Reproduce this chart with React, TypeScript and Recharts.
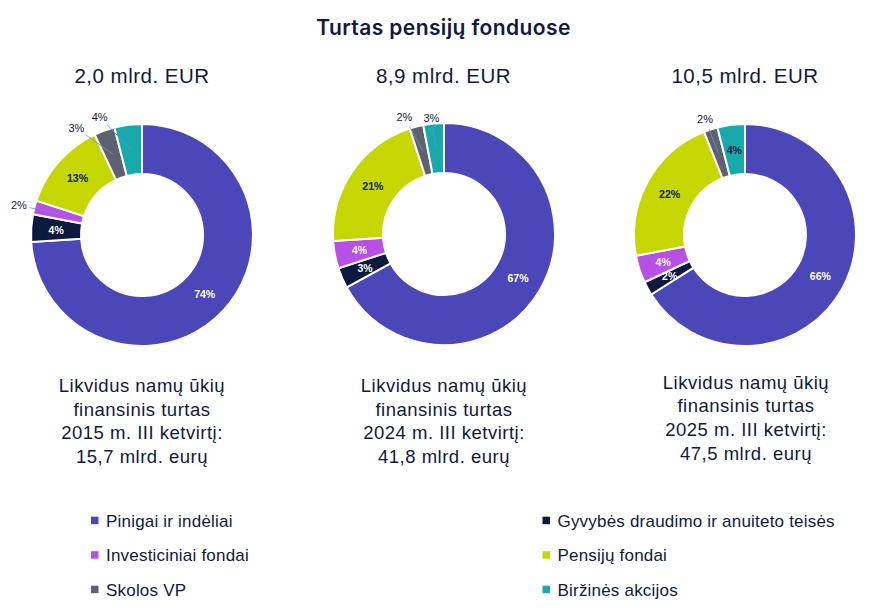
import React from 'react'
import { PieChart, Pie, Cell } from 'recharts'

const categories = [
  'Pinigai ir indėliai',
  'Gyvybės draudimo ir anuiteto teisės',
  'Investiciniai fondai',
  'Pensijų fondai',
  'Skolos VP',
  'Biržinės akcijos',
]

// structure of liquid household financial assets, %
const share2015 = [74, 4, 2, 13, 3, 4]
const share2024 = [67, 3, 4, 21, 2, 3]
const share2025 = [66, 2, 4, 22, 2, 4]

const pensionTotals = ['2,0 mlrd. EUR', '8,9 mlrd. EUR', '10,5 mlrd. EUR']
const periods = ['2015 m. III ketvirtį:', '2024 m. III ketvirtį:', '2025 m. III ketvirtį:']
const householdTotals = ['15,7 mlrd. eurų', '41,8 mlrd. eurų', '47,5 mlrd. eurų']

const COLORS = ['#4c47b9', '#0b1a3e', '#b84fe6', '#c5d600', '#5f6070', '#17a9ac']
const LABEL_COLORS = ['#ffffff', '#ffffff', '#ffffff', '#0b1a3e', '#ffffff', '#0b1a3e']
const INK = '#0f1a3c'
const FONT = '"Liberation Sans", Arial, sans-serif'
const RAD = Math.PI / 180

// small slices whose labels sit outside the ring, with a nudge [dx, dy]
const outside2015: Record<number, [number, number]> = { 2: [-4, 1], 4: [-24, 9], 5: [-27, 4] }
const outside2024: Record<number, [number, number]> = { 4: [-9, 2], 5: [-1, 6] }
const outside2025: Record<number, [number, number]> = { 4: [-2, 1] }

const toRows = (values: number[]) => categories.map((name, i) => ({ name, value: values[i] }))

const makeLabel = (outside: Record<number, [number, number]>) => (props: any) => {
  const { cx, cy, midAngle, innerRadius, outerRadius, index } = props
  const value = props.value ?? props.payload?.value
  const cos = Math.cos(-midAngle * RAD)
  const sin = Math.sin(-midAngle * RAD)
  const mid = (innerRadius + outerRadius) / 2
  const ax = cx + mid * cos
  const ay = cy + mid * sin
  const nudge = outside[index]
  const textProps = {
    textAnchor: 'middle' as const,
    dominantBaseline: 'central' as const,
    fontSize: 10.5,
    fontWeight: 'bold' as const,
    fontFamily: FONT,
  }
  if (!nudge) {
    return (
      <text key={`l-${index}`} x={ax} y={ay} fill={LABEL_COLORS[index]} {...textProps}>
        {value}%
      </text>
    )
  }
  const r = outerRadius + 12
  const lx = cx + r * cos + nudge[0]
  const ly = cy + r * sin + nudge[1]
  const dx = ax - lx
  const dy = ay - ly
  const d = Math.hypot(dx, dy)
  const sx = lx + (dx / d) * 11
  const sy = ly + (dy / d) * 11
  return (
    <g key={`l-${index}`}>
      <line x1={sx} y1={sy} x2={ax} y2={ay} stroke="#6b8fd6" strokeWidth={0.8} />
      <text x={lx} y={ly} fill={INK} {...textProps} fontSize={11} fontWeight="normal">
        {value}%
      </text>
    </g>
  )
}

const donuts = [
  { values: share2015, outside: outside2015, cx: 142, cy: 234.5, textX: 142, textY: 392 },
  { values: share2024, outside: outside2024, cx: 443.5, cy: 234, textX: 444, textY: 392 },
  { values: share2025, outside: outside2025, cx: 745, cy: 235, textX: 746, textY: 388.5 },
]

const BOX_W = 290
const BOX_H = 270

export default function App() {
  return (
    <div
      style={{
        position: 'absolute',
        left: 0,
        top: 0,
        width: 887,
        height: 615,
        background: '#ffffff',
        overflow: 'hidden',
      }}
    >
      <svg width={887} height={615} style={{ position: 'absolute', left: 0, top: 0 }}>
        <text
          x={443.5}
          y={35}
          textAnchor="middle"
          fontFamily="Inter, sans-serif"
          fontSize={21}
          fontWeight={600}
          letterSpacing={0.4}
          fill={INK}
        >
          Turtas pensijų fonduose
        </text>
        {donuts.map((d, i) => (
          <g key={`t-${i}`} fontFamily={FONT} fill={INK} textAnchor="middle">
            <text x={d.cx} y={83} fontSize={20.5} letterSpacing={0.5}>
              {pensionTotals[i]}
            </text>
            {['Likvidus namų ūkių', 'finansinis turtas', periods[i], householdTotals[i]].map((line, k) => (
              <text key={k} x={d.textX} y={d.textY + k * 23.7} fontSize={18.5} letterSpacing={0.5}>
                {line}
              </text>
            ))}
          </g>
        ))}
        {categories.map((name, i) => {
          const col = i % 2
          const row = Math.floor(i / 2)
          const x = col === 0 ? 91 : 542.5
          const y = 526.7 + row * 34.5
          return (
            <g key={name}>
              <rect x={x} y={y - 10} width={7.5} height={7.5} fill={COLORS[i]} />
              <text x={x + 15} y={y} fontFamily={FONT} fontSize={17} letterSpacing={0.2} fill={INK}>
                {name}
              </text>
            </g>
          )
        })}
      </svg>
      {donuts.map((d, i) => (
        <div
          key={`c-${i}`}
          style={{ position: 'absolute', left: d.cx - BOX_W / 2, top: d.cy - BOX_H / 2 }}
        >
          <PieChart
            width={BOX_W}
            height={BOX_H}
            margin={{ top: 0, right: 0, bottom: 0, left: 0 }}
            style={{ overflow: 'visible' }}
          >
            <Pie
              data={toRows(d.values)}
              dataKey="value"
              nameKey="name"
              cx={BOX_W / 2}
              cy={BOX_H / 2}
              innerRadius={61}
              outerRadius={111}
              startAngle={90}
              endAngle={-270}
              stroke="#ffffff"
              strokeWidth={2}
              label={makeLabel(d.outside)}
              labelLine={false}
              isAnimationActive={false}
            >
              {d.values.map((_, k) => (
                <Cell key={`cell-${k}`} fill={COLORS[k]} />
              ))}
            </Pie>
          </PieChart>
        </div>
      ))}
    </div>
  )
}
